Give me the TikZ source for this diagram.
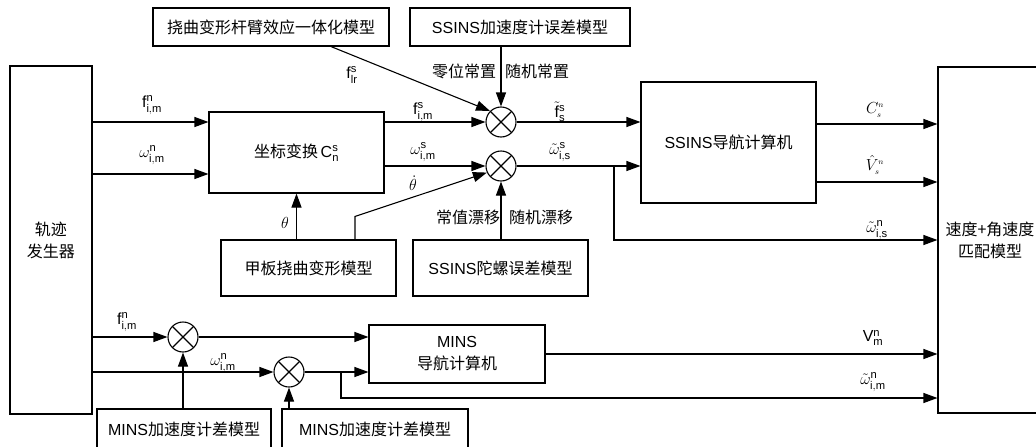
\RequirePackage{fix-cm}
\documentclass[tikz,border=0pt]{standalone}
\usepackage{amsmath}
\usepackage{fontspec}
\setmainfont{Liberation Sans}
\newfontfamily\cjk{Noto Sans CJK SC}
\usetikzlibrary{arrows.meta}

\newcommand{\sv}[3]{$#1^{\mathrm{#2}}_{\mathrm{#3}}$}

\begin{document}
\begin{tikzpicture}[
    x=1pt, y=-1pt,
    box/.style={draw, line width=1.1pt, align=center, inner sep=0pt, font=\fontsize{16}{22}\selectfont\cjk},
    sum/.style={draw, circle, line width=1.1pt, minimum size=30pt, inner sep=0pt,
        path picture={\draw[line width=1.1pt] (path picture bounding box.north west) -- (path picture bounding box.south east)
            (path picture bounding box.north east) -- (path picture bounding box.south west);}},
    arrow/.style={-{Triangle[length=14pt, width=10pt]}, line width=1.1pt},
    lab/.style={inner sep=1pt, font=\fontsize{16}{20}\selectfont},
    cjklab/.style={inner sep=1pt, font=\fontsize{16}{20}\selectfont\cjk}
]
\useasboundingbox (0,0) rectangle (1036,447);
\clip (0,0) rectangle (1036,447);

\node[box, minimum width=82pt, minimum height=348pt] (gen) at (51,240) {轨迹\\发生器};
\node[box, minimum width=236pt, minimum height=38pt] (flex) at (271,27) {挠曲变形杆臂效应一体化模型};
\node[box, minimum width=220pt, minimum height=38pt] (acc) at (520,27) {\textrm{SSINS}加速度计误差模型};
\node[box, minimum width=175pt, minimum height=81pt] (trans) at (296.5,152.5) {坐标变换\,$\mathrm{C}^{\mathrm{s}}_{\mathrm{n}}$};
\node[sum] (fsum) at (501,122) {};
\node[sum] (wsum) at (501,166) {};
\node[box, minimum width=175pt, minimum height=121pt] (ssins) at (728.5,142.5) {\textrm{SSINS}导航计算机};
\node[box, minimum width=104pt, minimum height=346pt] (match) at (990,240) {速度+角速度\\匹配模型};
\node[box, minimum width=175pt, minimum height=56pt] (deck) at (308.5,268) {甲板挠曲变形模型};
\node[box, minimum width=175pt, minimum height=56pt] (gyro) at (500.5,268) {\textrm{SSINS}陀螺误差模型};
\node[sum] (mfsum) at (183,337) {};
\node[sum] (mwsum) at (289,372) {};
\node[box, minimum width=176pt, minimum height=58pt] (mins) at (457,354) {\textrm{MINS}\\导航计算机};
\node[box, minimum width=174pt, minimum height=41pt] (macc) at (184,429.5) {\textrm{MINS}加速度计差模型};
\node[box, minimum width=186pt, minimum height=41pt] (mgyro) at (375,429.5) {\textrm{MINS}加速度计差模型};

\node[lab] (fin) at (152,105) {\sv{\mathrm{f}}{n}{i,m}};
\node[lab] (win) at (152,155) {\sv{\omega}{n}{i,m}};
\node[lab] (flr) at (352,75) {\sv{\mathrm{f}}{s}{lr}};
\node[lab] (fis) at (423,112) {\sv{\mathrm{f}}{s}{i,m}};
\node[lab] (wis) at (423,152) {\sv{\omega}{s}{i,m}};
\node[lab] (thd) at (413,183) {$\dot{\theta}$};
\node[lab] (th) at (285,223) {$\theta$};
\node[lab] (fts) at (560,112) {\sv{\tilde{\mathrm{f}}}{s}{s}};
\node[lab] (wts) at (560,152) {\sv{\tilde{\omega}}{s}{i,s}};
\node[cjklab] (bias) at (464,71) {零位常置};
\node[cjklab] (rbias) at (537,71) {随机常置};
\node[cjklab] (drift) at (468,217) {常值漂移};
\node[cjklab] (rdrift) at (541,217) {随机漂移};
\node[lab] (cout) at (875,110) {$C^{\scriptscriptstyle n}_{\scriptscriptstyle s}$};
\node[lab] (vout) at (875,165) {$\hat{V}^{\scriptscriptstyle n}_{\scriptscriptstyle s}$};
\node[lab] (wout) at (877,230) {\sv{\tilde{\omega}}{n}{i,s}};
\node[lab] (mv) at (873,338) {\sv{\mathrm{V}}{n}{m}};
\node[lab] (mw) at (873,382) {\sv{\tilde{\omega}}{n}{i,m}};
\node[lab] (mfin) at (127,322) {\sv{\mathrm{f}}{n}{i,m}};
\node[lab] (mwin) at (223,363) {\sv{\omega}{n}{i,m}};

\coordinate (wtap) at (614,166);
\coordinate (mtap) at (341,372);

\draw[arrow] (gen.east |- fsum) -- (trans.west |- fsum);
\draw[arrow] (gen.east |- 0,174) -- (trans.west |- 0,174);
\draw[arrow] (trans.east |- fsum) -- (fsum);
\draw[arrow] (trans.east |- wsum) -- (wsum);
\draw[arrow] ([xshift=60pt]flex.south) -- (fsum.north west);
\draw[arrow] (acc.south -| fsum) -- (fsum);
\draw[arrow] (fsum) -- (ssins.west |- fsum);
\draw[arrow] (wsum) -- (ssins.west |- wsum);
\draw[arrow] (wtap) |- (match.west |- 0,240);
\draw[arrow] (ssins.east |- 0,124) -- (match.west |- 0,124);
\draw[arrow] (ssins.east |- 0,182) -- (match.west |- 0,182);
\draw[arrow] (deck.north -| trans) -- (trans.south);
\draw[arrow] ([xshift=46.5pt]deck.north) -- ++(0,-23) -- (wsum.205);
\draw[arrow] (gyro.north -| wsum) -- (wsum);
\draw[arrow] (gen.east |- mfsum) -- (mfsum);
\draw[arrow] (gen.east |- mwsum) -- (mwsum);
\draw[arrow] (mfsum) -- (mins.west |- mfsum);
\draw[arrow] (mwsum) -- (mins.west |- mwsum);
\draw[arrow] (mins.east) -- (match.west |- mins.east);
\draw[arrow] (mtap) |- (match.west |- 0,398);
\draw[arrow] (macc.north -| mfsum) -- (mfsum);
\draw[arrow] (mgyro.north -| mwsum) -- (mwsum);
\end{tikzpicture}
\end{document}
